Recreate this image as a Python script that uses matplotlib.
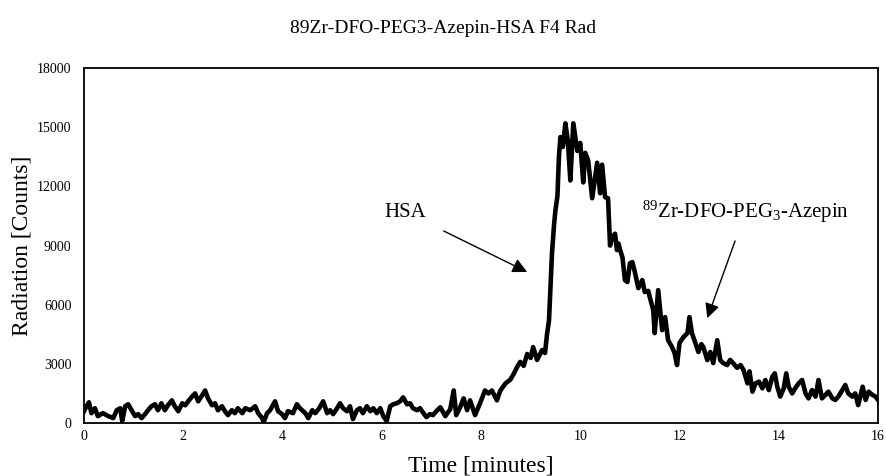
import numpy as np
import matplotlib.pyplot as plt

# radio-HPLC trace, F4 fraction (time in minutes, counts)
t_base = [0.0, 0.05, 0.1, 0.15, 0.22, 0.28, 0.38, 0.49, 0.59, 0.66, 0.73, 0.77, 0.83, 0.89, 0.96,
          1.03, 1.09, 1.16, 1.23, 1.29, 1.36, 1.43, 1.49, 1.56, 1.63, 1.69, 1.77, 1.83, 1.9, 1.98,
          2.04, 2.1, 2.18, 2.24, 2.3, 2.38, 2.44, 2.5, 2.58, 2.64, 2.7, 2.78, 2.84, 2.9, 2.98,
          3.04, 3.1, 3.19, 3.25, 3.35, 3.45, 3.51, 3.59, 3.62, 3.69, 3.75, 3.85, 3.91, 3.99,
          4.05, 4.11, 4.21, 4.29, 4.35, 4.46, 4.52, 4.6, 4.66, 4.74, 4.82, 4.9, 4.96,
          5.02, 5.1, 5.16, 5.22, 5.3, 5.36, 5.42, 5.5, 5.56, 5.62, 5.7, 5.77, 5.83, 5.9, 5.97,
          6.03, 6.1, 6.17, 6.23, 6.3, 6.37, 6.43, 6.51, 6.57, 6.63, 6.71, 6.77]
c_base = [600, 850, 1050, 500, 750, 350, 500, 350, 250, 650, 750, 100, 850, 950, 650,
          350, 450, 250, 450, 650, 850, 950, 650, 1000, 650, 900, 1150, 850, 600, 1000,
          900, 1100, 1350, 1500, 1100, 1400, 1650, 1250, 900, 1000, 650, 850, 600, 400, 650,
          500, 750, 500, 750, 650, 850, 500, 250, 50, 500, 650, 1100, 600, 450,
          250, 600, 500, 950, 750, 500, 250, 650, 500, 750, 1100, 500, 650,
          450, 750, 1000, 750, 600, 850, 200, 650, 750, 500, 850, 600, 750, 500, 750,
          350, 100, 850, 950, 1000, 1100, 1300, 950, 1000, 750, 650, 750]

t_rise = [6.84, 6.9, 6.97, 7.03, 7.1, 7.18, 7.28, 7.38, 7.45, 7.5, 7.58, 7.65, 7.72, 7.78, 7.88,
          7.98, 8.08, 8.15, 8.22, 8.32, 8.39, 8.49, 8.59, 8.65, 8.73, 8.79, 8.86, 8.93, 9.0,
          9.05, 9.13, 9.23, 9.29, 9.33, 9.37]
c_rise = [500, 300, 450, 400, 600, 800, 350, 700, 1650, 400, 800, 1250, 650, 1150, 400,
          1000, 1650, 1500, 1650, 1150, 1650, 2000, 2200, 2450, 2850, 3100, 2900, 3500, 3300,
          3850, 3200, 3700, 3550, 4500, 5200]

t_peak = [9.43, 9.47, 9.5, 9.54, 9.57, 9.6, 9.65, 9.7, 9.75, 9.8, 9.86, 9.9, 9.94, 10.0,
          10.06, 10.1, 10.16, 10.24, 10.3, 10.34, 10.4, 10.44, 10.5, 10.56]
c_peak = [8600, 10000, 10800, 11500, 13500, 14500, 14000, 15200, 14300, 12300, 15200, 14500,
          13800, 14200, 12200, 13700, 13300, 11400, 12500, 13200, 11650, 13100, 11450, 11400]

t_fall = [10.6, 10.64, 10.7, 10.74, 10.77, 10.8, 10.85, 10.9, 10.95, 11.0, 11.05, 11.1, 11.17,
          11.25, 11.3, 11.37, 11.4, 11.47, 11.5, 11.57, 11.65, 11.71, 11.77, 11.85, 11.9, 11.95,
          12.0, 12.08, 12.16, 12.2, 12.25, 12.32, 12.38, 12.44, 12.48, 12.56, 12.62, 12.68,
          12.76, 12.82, 12.88, 12.96, 13.02, 13.08, 13.16]
c_fall = [9000, 9400, 9600, 8770, 9100, 8800, 8400, 7250, 7150, 8100, 8160, 7650, 6840,
          7250, 6640, 6700, 6390, 5730, 4560, 6740, 4710, 5370, 4200, 3850, 3550, 2940,
          4060, 4360, 4560, 5370, 4560, 4060, 3600, 4000, 3850, 3190, 3600, 3040,
          4200, 3190, 3040, 2940, 3200, 3040, 2800]

t_tail = [13.23, 13.29, 13.37, 13.41, 13.47, 13.53, 13.6, 13.67, 13.73, 13.8, 13.87, 13.92,
          13.97, 14.03, 14.1, 14.15, 14.2, 14.27, 14.33, 14.4, 14.47, 14.54, 14.6, 14.67,
          14.74, 14.8, 14.87, 14.94, 15.0, 15.08, 15.14, 15.2, 15.28, 15.34, 15.4, 15.48,
          15.54, 15.6, 15.69, 15.75, 15.81, 15.89, 15.95, 16.0]
c_tail = [2940, 2690, 2010, 2620, 1590, 2010, 2100, 1760, 2180, 1670, 2350, 2520,
          1840, 1340, 1760, 2520, 1840, 1500, 1760, 2010, 2180, 1500, 1250, 1670,
          1340, 2180, 1250, 1420, 1590, 1250, 1170, 1340, 1670, 1930, 1500, 1340,
          1500, 910, 1840, 1170, 1590, 1420, 1340, 1170]

x_ticks = [0, 2, 4, 6, 8, 10, 12, 14, 16]
y_ticks = [0, 3000, 6000, 9000, 12000, 15000, 18000]

time = np.array(t_base + t_rise + t_peak + t_fall + t_tail)
counts = np.array(c_base + c_rise + c_peak + c_fall + c_tail)

plt.rcParams['font.family'] = ['Liberation Serif', 'DejaVu Serif']
plt.rcParams['mathtext.fontset'] = 'custom'
plt.rcParams['mathtext.rm'] = 'Liberation Serif'
plt.rcParams['mathtext.default'] = 'regular'

fig = plt.figure(figsize=(8.86, 4.76), dpi=100)
ax = fig.add_axes([0.0948, 0.1113, 0.8962, 0.7457])

ax.plot(time, counts, color='black', lw=3.3, solid_joinstyle='round')

ax.set_xlim(0, 16)
ax.set_ylim(0, 18000)
ax.set_xticks(x_ticks)
ax.set_yticks(y_ticks)
ax.tick_params(length=0, labelsize=10)
ax.tick_params(axis='y', pad=9)
ax.tick_params(axis='x', pad=5)
for s in ax.spines.values():
    s.set_linewidth(1.3)

ax.set_xlabel('Time [minutes]', fontsize=17, labelpad=9)
ax.set_ylabel('Radiation [Counts]', fontsize=17, labelpad=3)
fig.text(0.5, 0.941, '89Zr-DFO-PEG3-Azepin-HSA F4 Rad', ha='center', va='center', fontsize=14)

arrow = dict(arrowstyle='-|>', color='black', lw=1.0, mutation_scale=22, shrinkA=0, shrinkB=0)
ax.annotate('HSA', xy=(8.93, 7660), xytext=(6.47, 10700), fontsize=15,
            ha='center', va='center', arrowprops=dict(arrow, shrinkA=12))
ax.annotate(r'$^{89}$Zr-DFO-PEG$_3$-Azepin', xy=(12.56, 5320), xytext=(13.33, 10700),
            fontsize=15, ha='center', va='center', arrowprops=dict(arrow, shrinkA=10))

fig.savefig('out.png', dpi=100)
